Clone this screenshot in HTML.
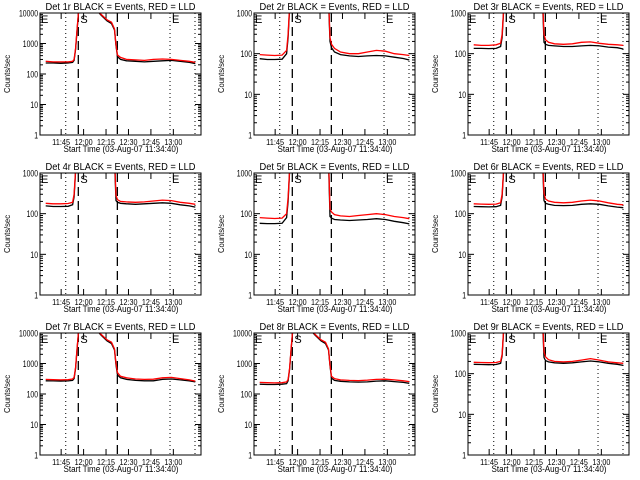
<!DOCTYPE html>
<html><head><meta charset="utf-8">
<style>
html,body{margin:0;padding:0;background:#fff;}
svg{display:block;font-family:"Liberation Sans",sans-serif;}
</style></head>
<body>
<svg id="chart" width="640" height="480" viewBox="0 0 640 480" xmlns="http://www.w3.org/2000/svg">
<rect x="0" y="0" width="640" height="480" fill="#fff"/>
</svg>
<script>
// minutes since 11:34:40
const times = [0,5,10,15,18,19,20,21,22,23,28,33,37,41,44,46,47,48,50,54,60,66,72,78,84,90,96,100];
const detNames = ["1r","2r","3r","4r","5r","6r","7r","8r","9r"];
const yMaxExp = [4,3,3,3,3,3,4,4,3];
const black1 = [230,230,225,230,240,280,650,2800,11000,18000,22000,14000,8500,5500,4500,2800,850,370,300,270,260,250,260,270,280,260,240,220];
const red1   = [260,250,250,250,260,300,700,3000,12000,20000,25000,15000,9000,6000,5000,3000,900,420,350,300,290,280,300,310,300,280,260,240];
const black2 = [75,72,72,73,100,250,1300,4500,8000,8000,8000,8000,8000,8000,5000,2000,200,140,110,95,88,85,88,90,88,82,76,70];
const red2   = [95,92,90,92,120,300,1500,5000,9000,9000,9000,9000,9000,9000,6000,2500,250,170,135,110,100,100,110,120,115,100,95,90];
const black3 = [135,135,133,135,150,250,1100,4000,8000,8000,8000,8000,8000,8000,5000,2000,190,170,160,155,150,150,155,160,155,145,140,130];
const red3   = [165,160,160,165,180,300,1200,4500,9000,9000,9000,9000,9000,9000,6000,2500,300,220,190,175,170,175,190,195,180,170,165,160];
const black4 = [155,150,150,152,165,260,1100,4000,8000,8000,8000,8000,8000,8000,5000,2000,210,190,180,175,170,175,180,185,180,165,155,145];
const red4   = [180,175,175,178,190,300,1200,4500,9000,9000,9000,9000,9000,9000,6000,2500,280,220,200,195,190,195,205,215,210,190,180,170];
const black5 = [58,57,57,58,80,200,1100,4000,8000,8000,8000,8000,8000,8000,5000,2000,85,78,72,70,68,70,72,75,72,65,60,56];
const red5   = [80,78,76,78,100,250,1200,4500,9000,9000,9000,9000,9000,9000,6000,2500,130,110,95,88,85,90,95,100,95,85,80,75];
const black6 = [150,148,147,148,160,260,1100,4000,8000,8000,8000,8000,8000,8000,5000,2000,210,180,170,160,158,160,170,175,170,155,145,140];
const red6   = [175,172,170,172,185,300,1200,4500,9000,9000,9000,9000,9000,9000,6000,2500,320,230,205,190,185,190,205,215,205,185,170,165];
const black7 = [270,268,265,268,280,320,700,3000,11000,18000,22000,14000,8500,5500,4500,2800,900,420,340,300,280,270,270,300,310,290,270,250];
const red7   = [300,295,290,295,310,350,750,3200,12000,20000,25000,15000,9000,6000,5000,3000,1000,500,380,340,310,300,305,340,350,320,290,265];
const black8 = [210,205,205,210,220,270,650,2800,11000,18000,22000,14000,8500,5500,4500,2800,850,330,280,260,250,245,250,265,270,255,240,225];
const red8   = [240,235,232,235,250,300,700,3000,12000,20000,25000,15000,9000,6000,5000,3000,900,380,320,290,280,275,285,300,305,290,270,255];
const black9 = [170,168,166,168,180,270,1100,4000,8000,8000,8000,8000,8000,8000,5000,2000,250,210,195,185,180,185,195,205,195,180,170,160];
const red9   = [190,188,186,188,200,300,1200,4500,9000,9000,9000,9000,9000,9000,6000,2500,350,260,220,200,195,200,215,235,215,195,185,180];
const blackSeries = [black1,black2,black3,black4,black5,black6,black7,black8,black9];
const redSeries = [red1,red2,red3,red4,red5,red6,red7,red8,red9];
const tickMinutes = [10.33,25.33,40.33,55.33,70.33,85.33];
const tickLabels = ["11:45","12:00","12:15","12:30","12:45","13:00"];
const dottedMinutes = [13.4,83.1,99.8];
const dashedMinutes = [21.8,47.9];

const NS="http://www.w3.org/2000/svg";
const svg=document.getElementById('chart');
const colX=[40,254,468], rowY=[13,173,333], W=161, H=122;
function mk(tag,attrs,parent){const e=document.createElementNS(NS,tag);for(const k in attrs)e.setAttribute(k,attrs[k]);(parent||svg).appendChild(e);return e;}

for(let p=0;p<9;p++){
  const x0=colX[p%3], y0=rowY[Math.floor(p/3)], maxE=yMaxExp[p];
  const xs=m=>x0+5.7+m*1.496;
  const ys=v=>y0+H-(Math.log10(Math.max(v,1))/maxE)*H;
  const g=mk('g',{});
  
  
  const cp=mk('clipPath',{id:'cp'+p},g);
  mk('rect',{x:x0,y:y0,width:W,height:H},cp);
  const t=mk('text',{x:x0+W/2-75,y:y0-3,'font-size':'10.5',textLength:'150',lengthAdjust:'spacingAndGlyphs'},g);
  t.textContent='Det '+detNames[p]+' BLACK = Events, RED = LLD';
  
  
  const yt=mk('text',{x:-19,y:0,'font-size':'8',textLength:'38',lengthAdjust:'spacingAndGlyphs',transform:'translate('+(x0-30)+','+(y0+H/2)+') rotate(-90)'},g);
  yt.textContent='Counts/sec';
  
  
  const xt=mk('text',{x:x0+W/2-57,y:y0+H+17,'font-size':'9.5',textLength:'115',lengthAdjust:'spacingAndGlyphs'},g);
  xt.textContent='Start Time (03-Aug-07 11:34:40)';
  
  
  // y ticks
  for(let e=0;e<=maxE;e++){
    const y=ys(Math.pow(10,e));
    mk('line',{x1:x0,x2:x0+6,y1:y,y2:y,stroke:'#000'},g);
    mk('line',{x1:x0+W,x2:x0+W-6,y1:y,y2:y,stroke:'#000'},g);
    const s=String(Math.pow(10,e));
    const w=s.length*3.8;
    const l=mk('text',{x:x0-2-w,y:y+3.5,'font-size':'9',textLength:String(w),lengthAdjust:'spacingAndGlyphs'},g);
    l.textContent=s;
    
    
    if(e<maxE){for(let k=2;k<=9;k++){const yy=ys(k*Math.pow(10,e));
      mk('line',{x1:x0,x2:x0+3,y1:yy,y2:yy,stroke:'#000'},g);
      mk('line',{x1:x0+W,x2:x0+W-3,y1:yy,y2:yy,stroke:'#000'},g);}}
  }
  // x ticks
  for(let i=0;i<tickMinutes.length;i++){
    const x=xs(tickMinutes[i]);
    mk('line',{x1:x,x2:x,y1:y0+H,y2:y0+H-6,stroke:'#000'},g);
    mk('line',{x1:x,x2:x,y1:y0,y2:y0+6,stroke:'#000'},g);
    const l=mk('text',{x:x-9,y:y0+H+10,'font-size':'8.5',textLength:'18',lengthAdjust:'spacingAndGlyphs'},g);
    l.textContent=tickLabels[i];
    
    
  }
  dottedMinutes.forEach(m=>{const x=xs(m);const l=mk('line',{x1:x,x2:x,y1:y0,y2:y0+H,stroke:'#000','stroke-dasharray':'1,3'},g);
    });
  dashedMinutes.forEach(m=>{const x=xs(m);const l=mk('line',{x1:x,x2:x,y1:y0,y2:y0+H,stroke:'#000','stroke-width':'1.3','stroke-dasharray':'9,5'},g);
    });
  // letters
  [['E',x0+1],['S',xs(dashedMinutes[0])+2],['E',xs(dottedMinutes[1])+2]].forEach(a=>{
    const l=mk('text',{x:a[1],y:y0+10,'font-size':'11'},g);l.textContent=a[0];
    });
  // series
  [[blackSeries[p],'#000'],[redSeries[p],'#f00']].forEach(s=>{
    const pts=times.map((m,i)=>xs(m).toFixed(1)+','+ys(s[0][i]).toFixed(1)).join(' ');
    const pl=mk('polyline',{points:pts,fill:'none',stroke:s[1],'stroke-width':'1.3','clip-path':'url(#cp'+p+')'},g);
    
    
  });
  const fr=mk('rect',{x:x0,y:y0,width:W,height:H,fill:'none',stroke:'#000'},g);
  
  
}
</script>
</body></html>
